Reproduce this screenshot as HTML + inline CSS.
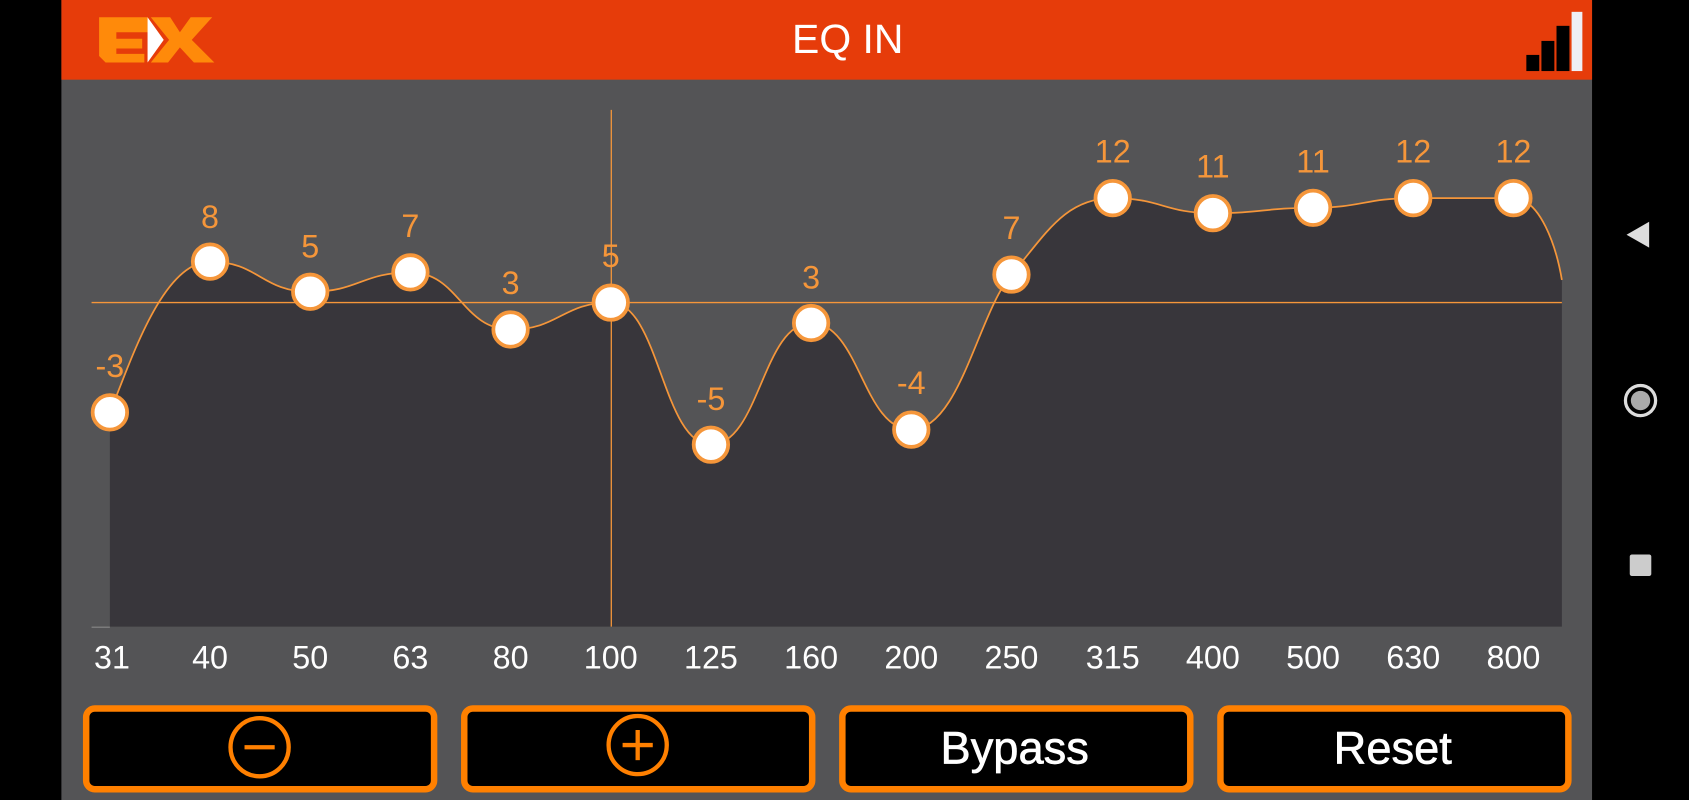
<!DOCTYPE html>
<html><head><meta charset="utf-8"><style>
html,body{margin:0;padding:0;background:#000;width:1689px;height:800px;overflow:hidden}
svg{display:block}
</style></head><body>
<svg width="1689" height="800" viewBox="0 0 1568 743" preserveAspectRatio="none" xmlns="http://www.w3.org/2000/svg">
<rect x="0" y="0" width="1568" height="743" fill="#000"/>
<rect x="57" y="0" width="1421" height="743" fill="#545456"/>
<rect x="57" y="0" width="1421" height="74" fill="#E63C0A"/>
<!-- logo -->
<path d="M92,16 H137 V30 H108 V36 H132 V45 H108 V50 H134 V58 H98 L92,52 Z" fill="#FF8A0A"/>
<path d="M137,16 L152,37 L137,58 Z" fill="#fff"/>
<path d="M140,16 H158 L167,30 L177,16 H197 L178,37 L199,58 H180 L167,44 L156,58 H140 L157,37 Z" fill="#FF8A0A"/>
<text x="787" y="49" text-anchor="middle" font-family="Liberation Sans Narrow, Liberation Sans, sans-serif" font-size="38" fill="#fff">EQ IN</text>
<!-- signal -->
<rect x="1417" y="51" width="12" height="15" fill="#000"/>
<rect x="1431" y="38" width="12" height="28" fill="#000"/>
<rect x="1445" y="24" width="12" height="42" fill="#000"/>
<rect x="1459" y="11" width="10" height="55" fill="#EEEEF5"/>
<!-- chart -->
<path d="M102,383 C120,340 150,243 195,243 C240,243 243,271 288,271 C333,271 336,253 381,253 C426,253 429,306 474,306 C519,306 522,281 567,281 C612,281 615,413 660,413 C705,413 708,300 753,300 C798,300 801,399 846,399 C891,399 908,291 939,255 C970,219 988,184 1033,184 C1078,184 1081,198 1126,198 C1171,198 1174,193 1219,193 C1264,193 1267,184 1312,184 C1357,184 1360,184 1405,184 C1430,184 1445,230 1450,260 L1450,582 L102,582 Z" fill="#38363B"/>
<line x1="85" y1="582.5" x2="102" y2="582.5" stroke="#888" stroke-width="1"/>
<line x1="85" y1="281" x2="1450" y2="281" stroke="#F5963A" stroke-width="1.2"/>
<line x1="567.5" y1="102" x2="567.5" y2="582" stroke="#F5963A" stroke-width="1.2"/>
<path d="M102,383 C120,340 150,243 195,243 C240,243 243,271 288,271 C333,271 336,253 381,253 C426,253 429,306 474,306 C519,306 522,281 567,281 C612,281 615,413 660,413 C705,413 708,300 753,300 C798,300 801,399 846,399 C891,399 908,291 939,255 C970,219 988,184 1033,184 C1078,184 1081,198 1126,198 C1171,198 1174,193 1219,193 C1264,193 1267,184 1312,184 C1357,184 1360,184 1405,184 C1430,184 1445,230 1450,260" fill="none" stroke="#F5963A" stroke-width="1.6"/>
<g fill="#fff" stroke="#F5963A" stroke-width="3.5">
<circle cx="102" cy="383" r="16"/><circle cx="195" cy="243" r="16"/><circle cx="288" cy="271" r="16"/>
<circle cx="381" cy="253" r="16"/><circle cx="474" cy="306" r="16"/><circle cx="567" cy="281" r="16"/>
<circle cx="660" cy="413" r="16"/><circle cx="753" cy="300" r="16"/><circle cx="846" cy="399" r="16"/>
<circle cx="939" cy="255" r="16"/><circle cx="1033" cy="184" r="16"/><circle cx="1126" cy="198" r="16"/>
<circle cx="1219" cy="193" r="16"/><circle cx="1312" cy="184" r="16"/><circle cx="1405" cy="184" r="16"/>
</g>
<g font-family="Liberation Sans, sans-serif" font-size="30" fill="#F5963A" text-anchor="middle">
<text x="102" y="350">-3</text><text x="195" y="212">8</text><text x="288" y="239">5</text>
<text x="381" y="220">7</text><text x="474" y="273">3</text><text x="567" y="248">5</text>
<text x="660" y="381">-5</text><text x="753" y="268">3</text><text x="846" y="366">-4</text>
<text x="939" y="222">7</text><text x="1033" y="151">12</text><text x="1126" y="165">11</text>
<text x="1219" y="160">11</text><text x="1312" y="151">12</text><text x="1405" y="151">12</text>
</g>
<g font-family="Liberation Sans, sans-serif" font-size="30" fill="#fff" text-anchor="middle">
<text x="104" y="621">31</text><text x="195" y="621">40</text><text x="288" y="621">50</text>
<text x="381" y="621">63</text><text x="474" y="621">80</text><text x="567" y="621">100</text>
<text x="660" y="621">125</text><text x="753" y="621">160</text><text x="846" y="621">200</text>
<text x="939" y="621">250</text><text x="1033" y="621">315</text><text x="1126" y="621">400</text>
<text x="1219" y="621">500</text><text x="1312" y="621">630</text><text x="1405" y="621">800</text>
</g>
<!-- buttons -->
<g fill="#000" stroke="#FF8000" stroke-width="6">
<rect x="80" y="658" width="323" height="75" rx="8"/>
<rect x="431" y="658" width="323" height="75" rx="8"/>
<rect x="782" y="658" width="323" height="75" rx="8"/>
<rect x="1133" y="658" width="323" height="75" rx="8"/>
</g>
<g fill="none" stroke="#FF8000" stroke-width="4">
<circle cx="241" cy="694" r="27"/><line x1="227" y1="694" x2="255" y2="694"/>
<circle cx="592" cy="692" r="27"/><line x1="578" y1="692" x2="606" y2="692"/><line x1="592" y1="678" x2="592" y2="706"/>
</g>
<g font-family="Liberation Sans Narrow, Liberation Sans, sans-serif" font-size="42" fill="#fff" text-anchor="middle" stroke="#fff" stroke-width="0.6">
<text x="942" y="709">Bypass</text><text x="1293" y="709">Reset</text>
</g>
<!-- nav -->
<path d="M1531,206 L1531,230 L1510,218 Z" fill="#ddd"/>
<circle cx="1523" cy="372" r="14" fill="none" stroke="#ddd" stroke-width="3"/>
<circle cx="1523" cy="372" r="9" fill="#aaa"/>
<rect x="1513" y="515" width="20" height="20" rx="2" fill="#ccc"/>
</svg>
</body></html>
